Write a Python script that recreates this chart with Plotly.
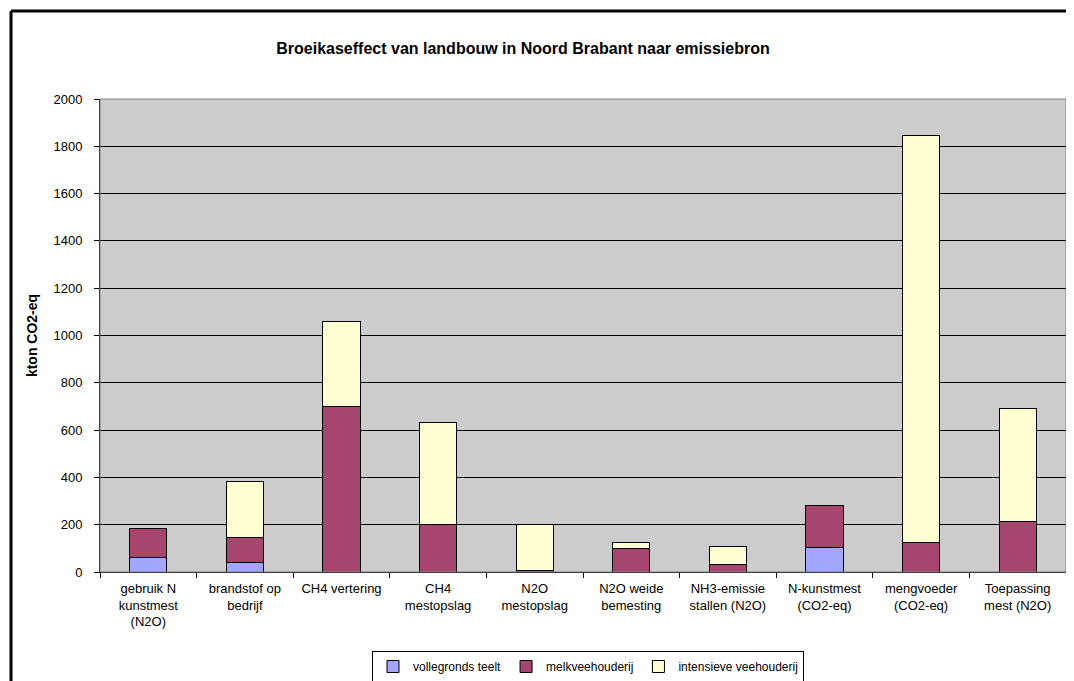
import plotly.graph_objects as go

categories = [
    "gebruik N<br>kunstmest<br>(N2O)",
    "brandstof op<br>bedrijf",
    "CH4 vertering",
    "CH4<br>mestopslag",
    "N2O<br>mestopslag",
    "N2O weide<br>bemesting",
    "NH3-emissie<br>stallen (N2O)",
    "N-kunstmest<br>(CO2-eq)",
    "mengvoeder<br>(CO2-eq)",
    "Toepassing<br>mest (N2O)",
]
vollegronds = [62, 40, 0, 0, 0, 0, 0, 102, 0, 0]
melkvee = [122, 106, 700, 200, 8, 99, 32, 181, 123, 215]
intensief = [0, 236, 360, 432, 192, 25, 77, 0, 1722, 475]
y_ticks = [0, 200, 400, 600, 800, 1000, 1200, 1400, 1600, 1800, 2000]

series = [
    ("vollegronds teelt", vollegronds, "#a3a6ff"),
    ("melkveehouderij", melkvee, "#a6466f"),
    ("intensieve veehouderij", intensief, "#ffffd2"),
]

fig = go.Figure()
for name, vals, color in series:
    fig.add_trace(go.Bar(
        x=categories, y=vals, name=name,
        marker=dict(color=color, line=dict(color="#000000", width=1)),
    ))

OFF = 8  # page body margin
W, H = 1074, 681
L, R, T, B = 100 - OFF, 1074 - (1066 - OFF), 99 - OFF, 681 - (572 - OFF)
pw, ph = W - L - R, H - T - B

def px(x):
    return (x - OFF - L) / pw

def py(y):
    return (H - B - (y - OFF)) / ph

fig.update_layout(
    width=W, height=H,
    margin=dict(l=L, r=R, t=T, b=B, autoexpand=False),
    paper_bgcolor="white",
    plot_bgcolor="#cccccc",
    barmode="stack",
    bargap=0.615,
    font=dict(family="Liberation Sans, Arial, sans-serif", size=13, color="#000000"),
    title=dict(
        text="<b>Broeikaseffect van landbouw in Noord Brabant naar emissiebron</b>",
        x=(523 - OFF) / W, xanchor="center", y=1 - (48 - OFF) / H, yanchor="middle",
        font=dict(size=16),
    ),
    showlegend=True,
    legend=dict(
        orientation="h", traceorder="normal",
        xref="container", yref="container",
        x=(372 - OFF) / W, xanchor="left", y=1 - (651 - OFF) / H, yanchor="top",
        bordercolor="#000000", borderwidth=1, bgcolor="white",
        font=dict(size=12), itemwidth=30, tracegroupgap=0,
    ),
    xaxis=dict(
        showgrid=False, ticks="outside", tickson="boundaries", ticklen=5,
        tickcolor="#000000", showline=True, linecolor="#000000", linewidth=1,
        tickfont=dict(size=13), ticklabelstandoff=4, mirror=False,
    ),
    yaxis=dict(
        range=[0, 2000], tickvals=y_ticks, ticks="outside", ticklen=5,
        tickcolor="#000000", showgrid=True, gridcolor="#000000", gridwidth=1,
        showline=True, linecolor="#000000", linewidth=1, zeroline=False,
        title=dict(text="<b>kton CO2-eq</b>", font=dict(size=14), standoff=12),
        tickfont=dict(size=13), ticklabelstandoff=9,
    ),
    shapes=[
        dict(type="rect", xref="paper", yref="paper", x0=0, x1=1, y0=0, y1=1,
             line=dict(color="#808080", width=1), fillcolor="rgba(0,0,0,0)", layer="above"),
        dict(type="line", xref="paper", yref="paper", x0=px(11), x1=px(1090),
             y0=py(11), y1=py(11), line=dict(color="#000000", width=3)),
        dict(type="line", xref="paper", yref="paper", x0=px(11), x1=px(11),
             y0=py(11), y1=py(710), line=dict(color="#000000", width=3)),
    ],
)

fig.write_html("out.html")
